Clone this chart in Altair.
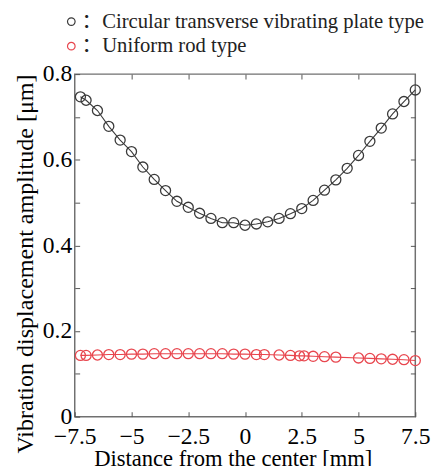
import altair as alt
import pandas as pd

# Circular transverse vibrating plate type (black)
plate_x = [-7.25, -7, -6.5, -6, -5.5, -5, -4.5, -4, -3.5, -3, -2.5, -2, -1.5, -1, -0.5,
           0, 0.5, 1, 1.5, 2, 2.5, 3, 3.5, 4, 4.5, 5, 5.5, 6, 6.5, 7, 7.5]
plate_y = [0.747, 0.739, 0.715, 0.678, 0.646, 0.619, 0.583, 0.554, 0.528, 0.503, 0.489,
           0.475, 0.463, 0.453, 0.453, 0.447, 0.450, 0.455, 0.463, 0.474, 0.486, 0.505,
           0.529, 0.553, 0.580, 0.610, 0.643, 0.674, 0.707, 0.736, 0.763]

# Uniform rod type (red)
rod_x = [-7.25, -7, -6.5, -6, -5.5, -5, -4.5, -4, -3.5, -3, -2.5, -2, -1.5, -1, -0.5,
         0, 0.5, 0.85, 1.5, 2, 2.4, 2.6, 3, 3.5, 4, 5, 5.5, 6, 6.5, 7, 7.5]
rod_y = [0.143, 0.143, 0.144, 0.145, 0.145, 0.146, 0.146, 0.147, 0.147, 0.147, 0.147,
         0.147, 0.147, 0.147, 0.146, 0.146, 0.145, 0.145, 0.144, 0.143, 0.142, 0.142,
         0.141, 0.140, 0.139, 0.137, 0.136, 0.135, 0.134, 0.133, 0.131]

series_names = ["：Circular transverse vibrating plate type", "：Uniform rod type"]
series_colors = ["#3a3a3a", "#e8464e"]

x_ticks = [-7.5, -5, -2.5, 0, 2.5, 5, 7.5]
x_inner_ticks = [-5, -2.5, 0, 2.5, 5]
y_ticks = [0, 0.1, 0.2, 0.3, 0.4, 0.5, 0.6, 0.7, 0.8]
y_inner_ticks = [0.1, 0.2, 0.3, 0.4, 0.5, 0.6, 0.7]

rows = []
for i, (xs, ys) in enumerate([(plate_x, plate_y), (rod_x, rod_y)]):
    for k, (a, b) in enumerate(zip(xs, ys)):
        rows.append({"x": a, "y": b, "series": series_names[i], "order": k})
df = pd.DataFrame(rows)

FONT = "Liberation Serif"
LEGEND_FONT = "Liberation Serif, Noto Sans CJK SC"
TICK = "#555555"

xscale = alt.Scale(domain=[-7.5, 7.5], nice=False, zero=False)
yscale = alt.Scale(domain=[0, 0.8], nice=False)
cscale = alt.Scale(domain=series_names, range=series_colors)

x_axis = alt.Axis(orient="bottom", values=x_ticks, format=".1~f", tickSize=5, offset=-5,
                  domain=False, grid=False, tickColor=TICK, tickWidth=1,
                  labelFont=FONT, labelFontSize=24, labelColor="black", labelPadding=8,
                  labelFlush=False, labelOverlap=False, labelBaseline="top",
                  title="Distance from the center [mm]", titleFont=FONT, titleFontSize=23,
                  titleFontWeight="normal", titleColor="black", titleX=161, titleY=55,
                  titleBaseline="alphabetic", titleAnchor="middle")
y_axis = alt.Axis(orient="left", values=y_ticks, tickSize=5, offset=-5,
                  domain=False, grid=False, tickColor=TICK, tickWidth=1,
                  labelFont=FONT, labelFontSize=24, labelColor="black", labelPadding=3,
                  labelFlush=False, labelOverlap=False,
                  labelExpr="round(datum.value*10) % 2 == 0 ? (datum.value == 0 ? '0' : format(datum.value, '.1f')) : ''",
                  title="Vibration displacement amplitude [μm]", titleFont=FONT,
                  titleFontSize=24.5, titleFontWeight="normal", titleColor="black",
                  titleX=-48, titleY=193, titleAngle=270, titleBaseline="alphabetic",
                  titleAnchor="middle")
x_top = alt.Axis(orient="top", values=x_inner_ticks, tickSize=5, offset=-5, domain=False,
                 grid=False, labels=False, title=None, tickColor=TICK, tickWidth=1)
y_right = alt.Axis(orient="right", values=y_inner_ticks, tickSize=5, offset=-5, domain=False,
                   grid=False, labels=False, title=None, tickColor=TICK, tickWidth=1)

legend = alt.Legend(
    orient="none", legendX=-14, legendY=-64, title=None, padding=0,
    labelFont=LEGEND_FONT, labelFontSize=21, labelColor="#222222", labelLimit=500,
    symbolType="circle", symbolSize=60, symbolStrokeWidth=1.2, symbolFillColor="white",
    labelOffset=0, rowPadding=3)

base = alt.Chart(df)

lines = base.mark_line(strokeWidth=1.1).encode(
    x=alt.X("x:Q", scale=xscale, axis=x_axis),
    y=alt.Y("y:Q", scale=yscale, axis=y_axis),
    color=alt.Color("series:N", scale=cscale, legend=legend),
    order="order:Q",
    detail="series:N",
)

points = base.mark_point(filled=False, size=105, strokeWidth=1.3, opacity=1).encode(
    x=alt.X("x:Q", scale=xscale, axis=None),
    y=alt.Y("y:Q", scale=yscale, axis=None),
    color=alt.Color("series:N", scale=cscale, legend=legend),
)

frame_ticks = base.mark_point(opacity=0).encode(
    x=alt.X("x:Q", scale=xscale, axis=x_top),
    y=alt.Y("y:Q", scale=yscale, axis=y_right),
)

chart = alt.layer(lines, points, frame_ticks).resolve_axis(
    x="independent", y="independent"
).properties(
    width=347, height=349,
    autosize=alt.AutoSizeParams(type="none"),
    padding={"left": 68, "top": 63, "right": 16, "bottom": 50},
).configure(
    background="white", font=FONT
).configure_axis(
    labelFont=FONT, titleFont=FONT
).configure_view(
    stroke="#707070", strokeWidth=1.5
)

chart.save("out.html", embed_options={"renderer": "svg", "actions": False})
